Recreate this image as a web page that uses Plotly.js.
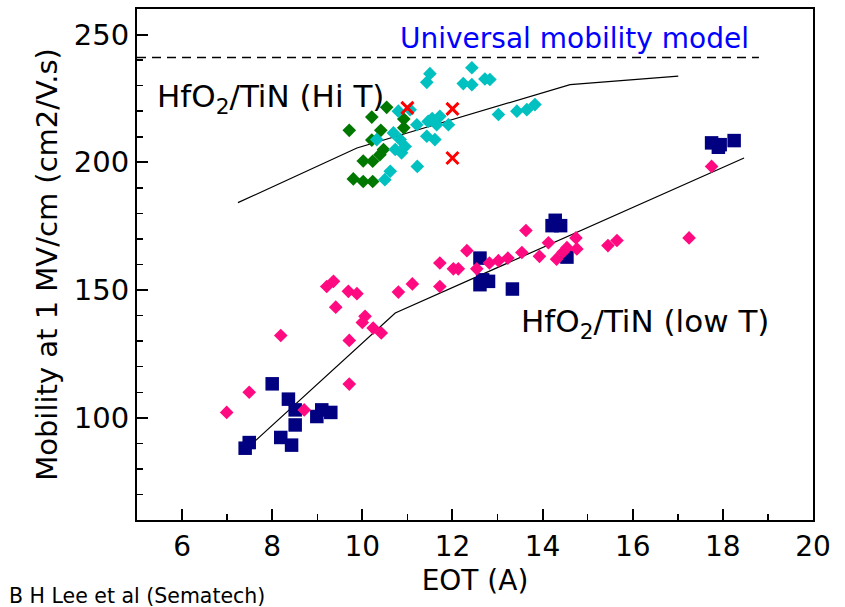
<!DOCTYPE html>
<html>
<head>
<meta charset="utf-8">
<script src="https://cdn.plot.ly/plotly-3.0.1.min.js"></script>
<style>
  html, body { margin: 0; padding: 0; background: #ffffff; }
  #chart { width: 845px; height: 607px; }
</style>
</head>
<body>
<div id="chart"></div>
<script>
// HfO2/TiN, high-temperature anneal (green and cyan lots)
const hiGreenEot = [10.54, 10.21, 9.71, 10.41, 10.92, 10.92, 10.21, 10.47, 10.39, 10.02, 10.23, 9.80, 10.02, 10.23];
const hiGreenMob = [221.5, 217.7, 212.5, 212.5, 216.9, 213.5, 208.7, 205.0, 203.0, 200.5, 200.4, 193.5, 192.5, 192.5];

const hiCyanEot = [11.50, 11.43, 12.43, 12.24, 12.43, 12.72, 12.83, 10.80, 11.06, 11.21, 11.46, 11.55, 11.72, 11.65, 11.91,
                   11.43, 11.61, 10.69, 10.32, 10.84, 10.95, 10.73, 10.87, 10.62, 11.22, 10.50, 13.02, 13.43, 13.65, 13.83];
const hiCyanMob = [234.7, 231.3, 237.0, 230.8, 230.4, 232.6, 232.4, 220.0, 220.6, 214.7, 216.0, 217.1, 218.0, 214.7, 214.7,
                   210.2, 208.9, 211.5, 208.9, 208.9, 206.2, 205.0, 203.7, 196.5, 198.4, 193.2, 218.7, 220.0, 220.6, 222.6];

const redEot = [11.0, 12.0, 12.0];
const redMob = [221.3, 220.9, 201.7];

// HfO2/TiN, low-temperature process (navy and pink lots)
const lowNavyEot = [7.40, 7.49, 8.00, 8.36, 8.51, 8.51, 8.19, 8.43, 8.99, 9.10, 9.30,
                    12.61, 12.67, 12.80, 12.61, 13.33, 14.28, 14.21, 14.40, 14.54, 17.75, 17.90, 17.94, 18.25];
const lowNavyMob = [88.1, 90.3, 113.3, 107.3, 103.1, 97.2, 92.3, 89.3, 100.5, 103.1, 102.1,
                    162.5, 154.0, 153.4, 152.1, 150.4, 177.3, 175.2, 175.2, 162.9, 207.6, 205.9, 206.9, 208.5];

const lowPinkEot = [6.99, 7.49, 8.19, 8.71, 9.21, 9.36, 9.41, 9.69, 9.88, 9.71, 9.71, 10.06, 10.00, 10.24, 10.42,
                    10.80, 11.11, 11.72, 11.72, 12.02, 12.13, 12.32, 12.54, 12.82, 13.02, 13.23, 13.54, 13.63, 13.93,
                    14.13, 14.31, 14.45, 14.54, 14.74, 14.76, 15.45, 15.65, 17.25, 17.75];
const lowPinkMob = [102.1, 110.0, 132.2, 103.1, 151.4, 153.4, 143.3, 149.5, 148.6, 130.3, 113.2, 139.7, 137.3, 135.1, 133.2,
                    149.2, 152.4, 160.6, 151.4, 158.3, 158.3, 165.4, 158.3, 160.6, 161.5, 162.5, 164.7, 173.3, 163.2,
                    168.5, 162.1, 164.8, 166.6, 170.4, 166.1, 167.4, 169.4, 170.4, 198.4];

// Guide lines
const universalEot = [5, 18.8];
const universalMob = [241, 241];
const hiTrendEot = [7.24, 9.88, 14.61, 17.01];
const hiTrendMob = [184.2, 205.6, 230.4, 233.7];
const lowTrendEot = [7.47, 10.73, 18.47];
const lowTrendMob = [88.5, 141.0, 201.7];

// Axis ticks
const xTicks = [6, 8, 10, 12, 14, 16, 18, 20];
const yTicks = [100, 150, 200, 250];

const FONT = 'DejaVu Sans, Arial, sans-serif';

function scatter(x, y, symbol, size, color) {
  return { x: x, y: y, type: 'scatter', mode: 'markers', hoverinfo: 'x+y',
           marker: { symbol: symbol, size: size, color: color, line: { width: 0 } } };
}
function guide(x, y, dash, width) {
  return { x: x, y: y, type: 'scatter', mode: 'lines', hoverinfo: 'skip',
           line: { color: '#000000', width: width, dash: dash } };
}

const traces = [
  guide(universalEot, universalMob, '9px,6px', 1.6),
  guide(hiTrendEot, hiTrendMob, 'solid', 1.2),
  guide(lowTrendEot, lowTrendMob, 'solid', 1.2),
  scatter(hiGreenEot, hiGreenMob, 'diamond', 10.5, '#007800'),
  scatter(hiCyanEot, hiCyanMob, 'diamond', 10.5, '#00c0c0'),
  { x: redEot, y: redMob, type: 'scatter', mode: 'markers',
    marker: { symbol: 'x-thin-open', size: 12, color: '#ff0000', line: { width: 3, color: '#ff0000' } } },
  scatter(lowNavyEot, lowNavyMob, 'square', 13.5, '#000080'),
  scatter(lowPinkEot, lowPinkMob, 'diamond', 10.5, '#ff0a80')
];

const axisCommon = {
  showline: true, linecolor: '#000000', linewidth: 2, mirror: true,
  showgrid: false, zeroline: false,
  ticks: 'inside', ticklen: 11, tickwidth: 2, tickcolor: '#000000',
  tickfont: { family: FONT, size: 28, color: '#000000' }
};

const layout = {
  width: 845, height: 607,
  margin: { l: 137, r: 32, t: 9, b: 87 },
  paper_bgcolor: '#ffffff', plot_bgcolor: '#ffffff',
  showlegend: false,
  font: { family: FONT, color: '#000000' },
  xaxis: Object.assign({}, axisCommon, {
    range: [5, 20], tickmode: 'array', tickvals: xTicks,
    minor: { dtick: 1, tick0: 5, ticks: 'inside', ticklen: 6, tickwidth: 1.5, tickcolor: '#000000' },
    title: { text: 'EOT (A)', font: { family: FONT, size: 28, color: '#000000' }, standoff: 9 }
  }),
  yaxis: Object.assign({}, axisCommon, {
    range: [60, 260], tickmode: 'array', tickvals: yTicks,
    tickfont: { family: FONT, size: 29, color: '#000000' },
    minor: { dtick: 10, tick0: 0, ticks: 'inside', ticklen: 6, tickwidth: 1.5, tickcolor: '#000000' },
    title: { text: 'Mobility at 1 MV/cm (cm2/V.s)', font: { family: FONT, size: 29, color: '#000000' }, standoff: 8 }
  }),
  annotations: [
    { x: 10.79, y: 255.6, xref: 'x', yref: 'y', xanchor: 'left', yanchor: 'top', showarrow: false,
      text: 'Universal mobility model', font: { family: FONT, size: 28, color: '#0000ff' } },
    { x: 5.40, y: 233.9, xref: 'x', yref: 'y', xanchor: 'left', yanchor: 'top', showarrow: false,
      text: 'HfO<sub>2</sub>/TiN (Hi T)', font: { family: FONT, size: 31, color: '#000000' } },
    { x: 13.48, y: 145.7, xref: 'x', yref: 'y', xanchor: 'left', yanchor: 'top', showarrow: false,
      text: 'HfO<sub>2</sub>/TiN (low T)', font: { family: FONT, size: 31, color: '#000000' } },
    { x: -0.1925, y: -0.148, xref: 'paper', yref: 'paper', xanchor: 'left', yanchor: 'middle', showarrow: false,
      text: 'B H Lee et al (Sematech)', font: { family: FONT, size: 20.5, color: '#000000' } }
  ]
};

Plotly.newPlot('chart', traces, layout, { staticPlot: true, displayModeBar: false });
</script>
</body>
</html>
